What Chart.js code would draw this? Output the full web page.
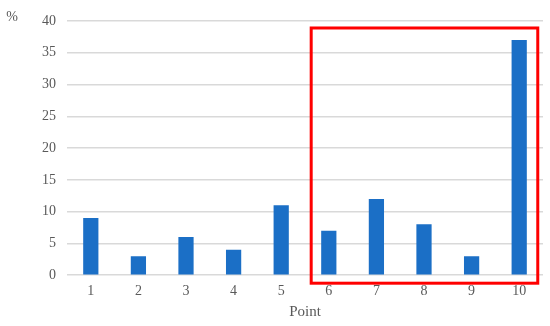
<!DOCTYPE html>
<html>
<head>
<meta charset="utf-8">
<script src="https://cdn.jsdelivr.net/npm/chart.js@4"></script>
<style>
  body { margin: 0; background: #fff; }
  #wrap { width: 550px; height: 326px; }
</style>
</head>
<body>
<div id="wrap"><canvas id="myChart"></canvas></div>
<script>
var points = ["1","2","3","4","5","6","7","8","9","10"];
var percent = [9, 3, 6, 4, 11, 7, 12, 8, 3, 37];
var yTicks = [0, 5, 10, 15, 20, 25, 30, 35, 40];
var highlight = ["6", "10"];   // first and last point inside the red box

var fonte = "'Liberation Serif', 'Times New Roman', serif";
var cinza = "#595959";

// red frame round the last points + the "%" label
var caixa = {
    id: "caixa",
    afterDraw: function(chart){
        var ctx = chart.ctx;
        var x = chart.scales.x, y = chart.scales.y;
        var passo = x.getPixelForValue(1) - x.getPixelForValue(0);
        var i0 = points.indexOf(highlight[0]), i1 = points.indexOf(highlight[1]);
        var esq = x.getPixelForValue(i0) - passo * 0.37;
        var dir = x.getPixelForValue(i1) + passo * 0.39;
        var topo = y.getPixelForValue(38.9);
        var baixo = y.getPixelForValue(0) + 8;
        ctx.save();
        ctx.strokeStyle = "#ff0000";
        ctx.lineWidth = 3;
        ctx.strokeRect(esq, topo, dir - esq, baixo - topo);
        ctx.fillStyle = cinza;
        ctx.font = "14px " + fonte;
        ctx.textAlign = "center";
        ctx.textBaseline = "middle";
        ctx.fillText("%", 12, 17);
        ctx.restore();
    }
};

var ctx = document.getElementById("myChart").getContext("2d");
var myChart = new Chart(ctx, {
    type: "bar",
    data: {
        labels: points,
        datasets: [{
            data: percent,
            backgroundColor: "#1b6fc6",
            borderWidth: 0,
            categoryPercentage: 1,
            barPercentage: 0.32
        }]
    },
    options: {
        responsive: true,
        maintainAspectRatio: false,
        animation: false,
        layout: { padding: { top: 21, right: 7, bottom: 5, left: 0 } },
        plugins: {
            legend: { display: false },
            tooltip: { enabled: false }
        },
        scales: {
            x: {
                grid: { display: false, drawTicks: false },
                border: { display: false },
                ticks: { color: cinza, font: { family: fonte, size: 14 }, padding: 8 },
                title: { display: true, text: "Point", color: cinza, font: { family: fonte, size: 15 }, padding: { top: -5, bottom: 0 } }
            },
            y: {
                min: 0,
                max: 40,
                afterBuildTicks: function(axis){
                    axis.ticks = yTicks.map(function(v){ return { value: v }; });
                },
                afterFit: function(axis){ axis.width = 67; },
                grid: { color: "#d9d9d9", lineWidth: 1.5, drawTicks: false },
                border: { display: false },
                ticks: { color: cinza, font: { family: fonte, size: 14 }, padding: 11 }
            }
        }
    },
    plugins: [caixa]
});
</script>
</body>
</html>
